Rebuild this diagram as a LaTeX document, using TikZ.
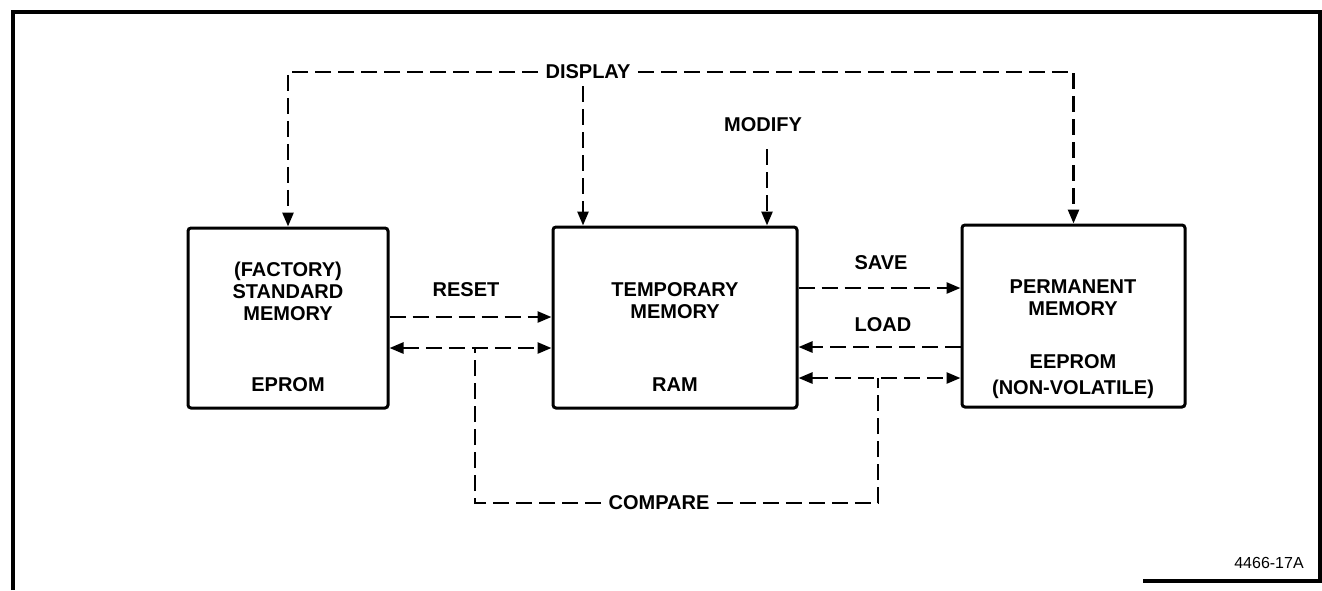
\documentclass[tikz,border=0pt]{standalone}
\usepackage{fontspec}
\setmainfont{Liberation Sans}
\usetikzlibrary{arrows.meta, positioning}

\begin{document}
\begin{tikzpicture}[x=0.5pt, y=-0.5pt,
    memBox/.style={draw, line width=1.5pt, rounded corners=1.5pt, inner sep=0pt},
    txt/.style={font=\fontsize{10}{11}\selectfont\bfseries, inner sep=3.5pt},
    dline/.style={line width=1.3pt, dash pattern=on 8pt off 3.5pt},
    arr/.style={-{Triangle[length=7pt, width=5.5pt]}},
    arrTwo/.style={{Triangle[length=7pt, width=5.5pt]}-{Triangle[length=7pt, width=5.5pt]}}]

    \useasboundingbox (0,0) rectangle (1322,590);

    % 1. MARCO
    \draw[line width=1.6pt] (13,590) -- (13,12) -- (1320,12) -- (1320,581) -- (1143,581);
    \node[font=\fontsize{8}{9}\selectfont, inner sep=0pt] (figId) at (1269,563) {4466-17A};

    % 2. MEMORIAS
    \node[memBox, minimum width=100pt, minimum height=90pt] (std) at (288,318) {};
    \node[memBox, minimum width=122pt, minimum height=90.5pt] (tmp) at (675,317.5) {};
    \node[memBox, minimum width=111.5pt, minimum height=91pt] (perm) at (1073.5,316) {};

    \node[txt, align=center] (stdName) at (288,291) {(FACTORY)\\STANDARD\\MEMORY};
    \node[txt] (stdType) at (288,385) {EPROM};
    \node[txt, align=center] (tmpName) at (675,301) {TEMPORARY\\MEMORY};
    \node[txt] (tmpType) at (675,385) {RAM};
    \node[txt, align=center] (permName) at (1073,298) {PERMANENT\\MEMORY};
    \node[txt, align=center] (permType) at (1073,377) {EEPROM\\[2pt](NON-VOLATILE)};

    % 3. TRANSFERENCIAS
    \coordinate (rowReset) at (0,317);
    \coordinate (rowCmpL) at (0,348);
    \coordinate (rowSave) at (0,288);
    \coordinate (rowLoad) at (0,347);
    \coordinate (rowCmpR) at (0,378);

    \draw[dline, arr] (std.east |- rowReset) -- (tmp.west |- rowReset);
    \draw[dline, arrTwo] (std.east |- rowCmpL) -- (tmp.west |- rowCmpL);
    \draw[dline, arr] (tmp.east |- rowSave) -- (perm.west |- rowSave);
    \draw[dline, arr] (perm.west |- rowLoad) -- (tmp.east |- rowLoad);
    \draw[dline, arrTwo] (tmp.east |- rowCmpR) -- (perm.west |- rowCmpR);

    \node[txt] (reset) at (466,290) {RESET};
    \node[txt] (save) at (881,263) {SAVE};
    \node[txt] (load) at (883,325) {LOAD};

    % 4. COMPARE
    \node[txt] (cmp) at (659,503) {COMPARE};
    \coordinate (cmpL) at (475,348);
    \coordinate (cmpR) at (878,378);
    \draw[dline] (cmp.west) -- (cmp.west -| cmpL) -- (cmpL);
    \draw[dline] (cmp.east) -- (cmp.east -| cmpR) -- (cmpR);

    % 5. DISPLAY / MODIFY
    \node[txt] (disp) at (588,72) {DISPLAY};
    \coordinate (dispIn) at (583,0);
    \draw[dline, arr] (disp.west) -| (std.north);
    \draw[dline, arr] (disp.east) -| (perm.north);
    \draw[dline, arr] (disp.south -| dispIn) -- (tmp.north -| dispIn);

    \node[txt] (mod) at (763,125) {MODIFY};
    \coordinate (modIn) at (767,0);
    \draw[dline, arr, shorten <=5pt] (mod.south -| modIn) -- (tmp.north -| modIn);

\end{tikzpicture}
\end{document}
